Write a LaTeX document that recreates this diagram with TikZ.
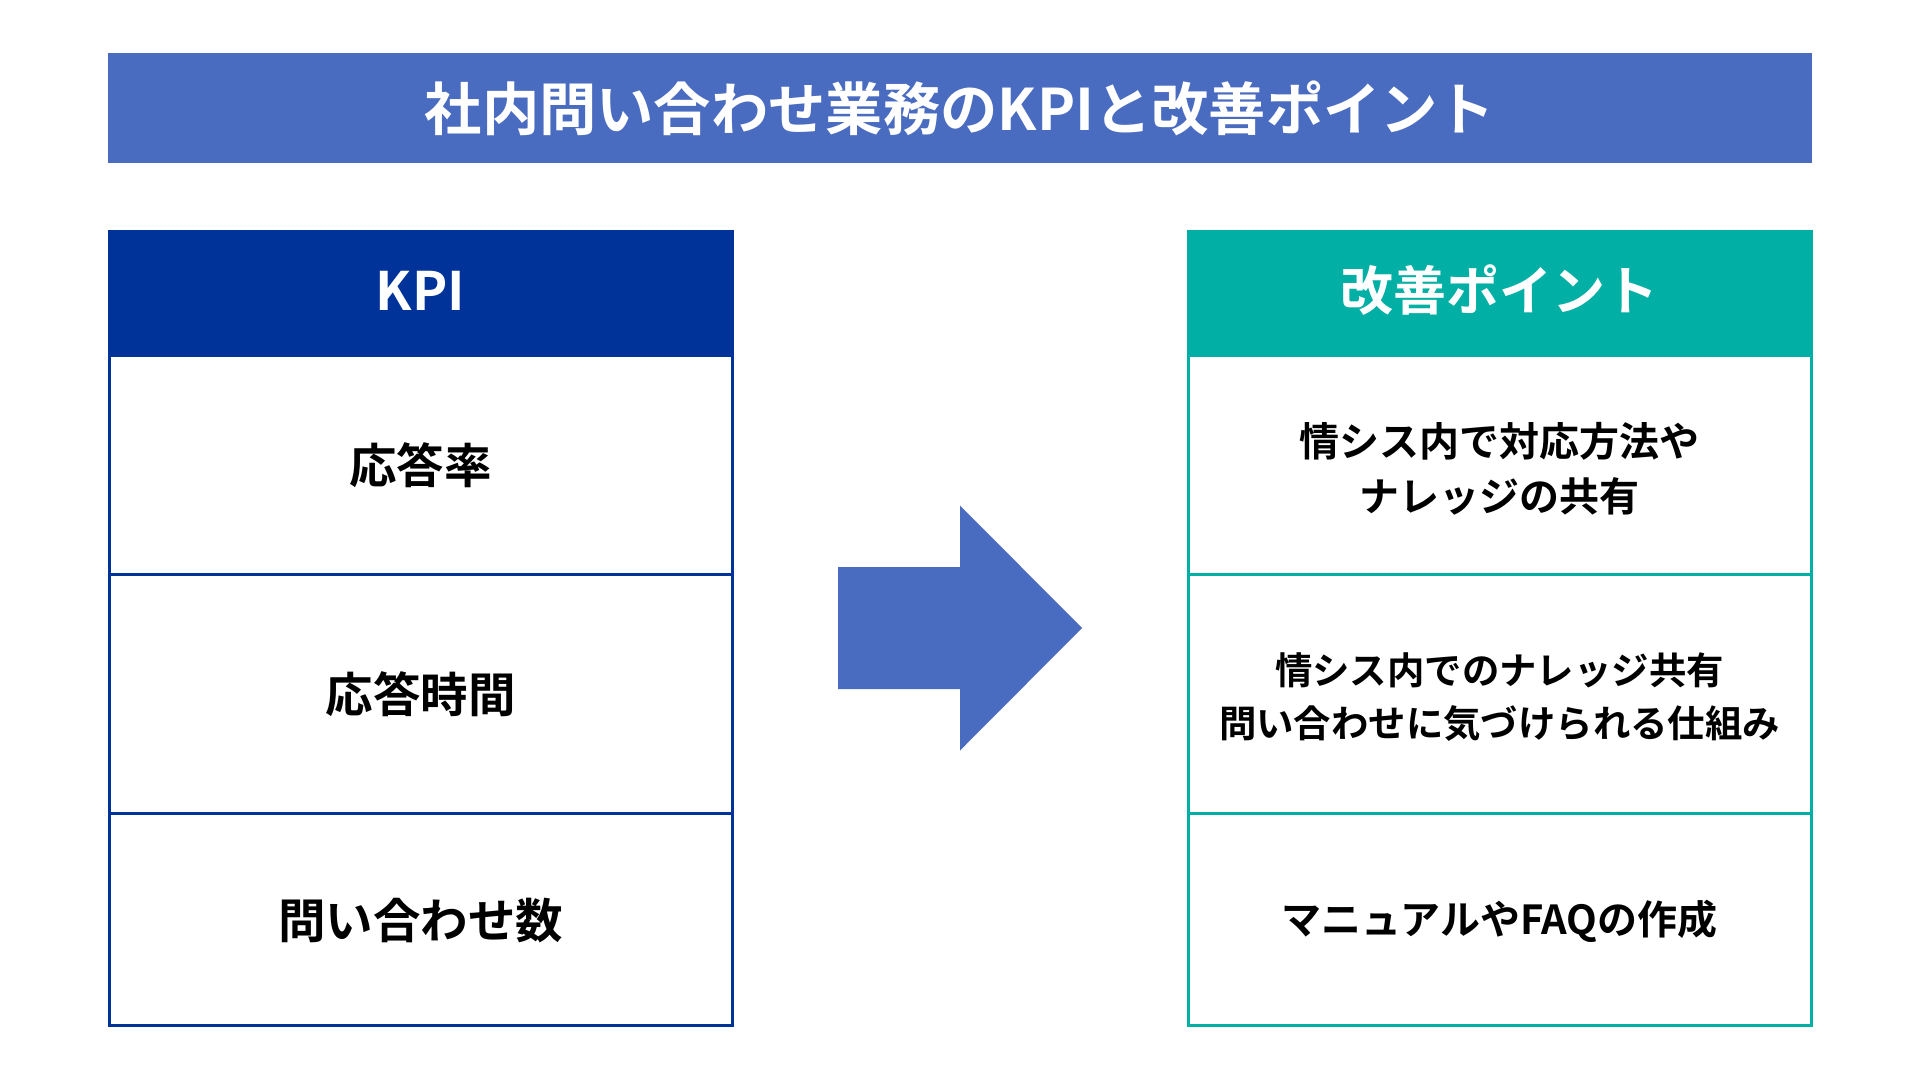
\documentclass[tikz,border=0pt]{standalone}
\usepackage{fontspec}
\setmainfont{Noto Sans CJK JP}[BoldFont={Noto Sans CJK JP Bold}]
\definecolor{titleblue}{HTML}{4A6CC0}
\definecolor{kpiblue}{HTML}{003399}
\definecolor{teal}{HTML}{02AFA5}
\tikzset{
  cellbox/.style={draw=#1, line width=3pt, fill=white, minimum width=623pt, inner sep=0pt},
  headbox/.style={draw=#1, fill=#1, line width=3pt, minimum width=623pt, minimum height=124pt, inner sep=0pt},
  headtext/.style={inner sep=0pt, text=white, font=\fontsize{53}{60}\selectfont\bfseries},
  ltext/.style={inner sep=0pt, align=center, text=black, font=\fontsize{47.5}{56}\selectfont\bfseries},
  rtext/.style={inner sep=0pt, align=center, text=black, font=\fontsize{40}{55}\selectfont\bfseries},
}
\begin{document}
\begin{tikzpicture}[x=1pt,y=-1pt]
\useasboundingbox[fill=white] (0,0) rectangle (1920,1080);
% title
\node[fill=titleblue, minimum width=1704pt, minimum height=110pt, inner sep=0pt, text=white, font=\fontsize{57.3}{64}\selectfont\bfseries] (title) at (960,108) {社内問い合わせ業務のKPIと改善ポイント};
% left table
\node[headbox=kpiblue] (kpih) at (420.5,293) {};
\node[cellbox=kpiblue, minimum height=219pt] (k1) at (420.5,464.5) {};
\node[cellbox=kpiblue, minimum height=239pt] (k2) at (420.5,693.5) {};
\node[cellbox=kpiblue, minimum height=212pt] (k3) at (420.5,919) {};
\node[headtext] (kpiht) at ([yshift=2.5pt]kpih.center) {KPI};
\node[ltext] (k1t) at ([yshift=-1pt]k1.center) {応答率};
\node[ltext] (k2t) at ([yshift=-1pt]k2.center) {応答時間};
\node[ltext] (k3t) at ([yshift=-2pt]k3.center) {問い合わせ数};
% right table
\node[headbox=teal] (imph) at (1499.5,293) {};
\node[cellbox=teal, minimum height=219pt] (i1) at (1499.5,464.5) {};
\node[cellbox=teal, minimum height=239pt] (i2) at (1499.5,693.5) {};
\node[cellbox=teal, minimum height=212pt] (i3) at (1499.5,919) {};
\node[headtext] (impht) at ([yshift=2.5pt]imph.center) {改善ポイント};
\node[rtext] (i1t) at ([yshift=-4.5pt]i1.center) {情シス内で対応方法や\\ナレッジの共有};
\node[rtext, font=\fontsize{37.4}{53}\selectfont\bfseries] (i2t) at ([yshift=-3.5pt]i2.center) {情シス内でのナレッジ共有\\問い合わせに気づけられる仕組み};
\node[rtext] (i3t) at ([yshift=-2pt]i3.center) {マニュアルやFAQの作成};
% arrow
\coordinate (arr) at (960,628);
\fill[titleblue] ([shift={(-122,-61)}]arr) -- ([shift={(0,-61)}]arr) -- ([shift={(0,-122.5)}]arr) -- ([shift={(122,0)}]arr) -- ([shift={(0,122.5)}]arr) -- ([shift={(0,61)}]arr) -- ([shift={(-122,61)}]arr) -- cycle;
\end{tikzpicture}
\end{document}
